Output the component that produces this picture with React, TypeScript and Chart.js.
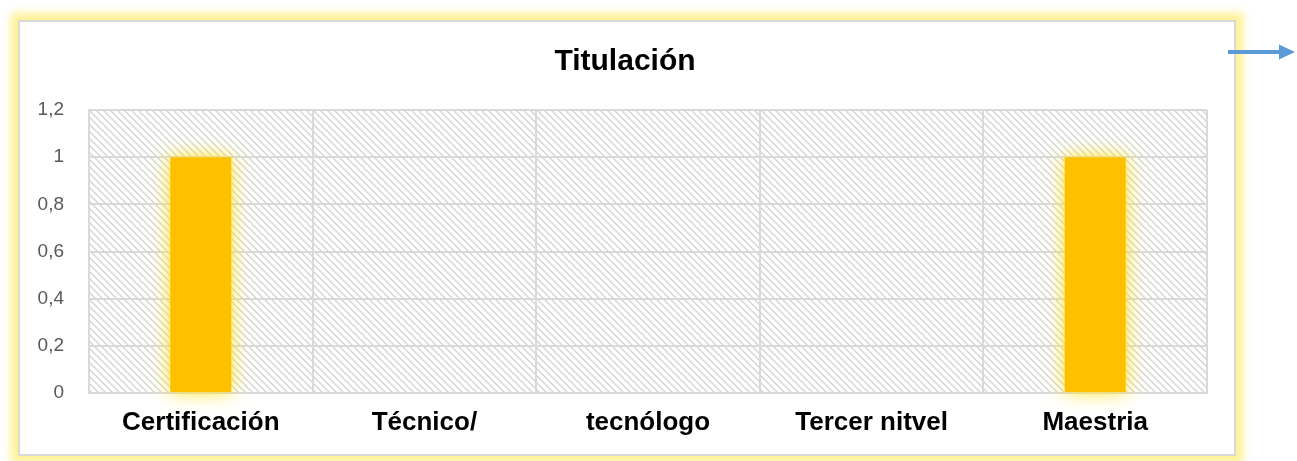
import React, { useEffect, useRef } from 'react';
import { Chart, registerables } from 'chart.js';

Chart.register(...registerables);

const chartTitle = 'Titulación';
const categories = ['Certificación', 'Técnico/', 'tecnólogo', 'Tercer nitvel', 'Maestria'];
const values = [1, 0, 0, 0, 1];
const yMin = 0;
const yMax = 1.2;
const yStep = 0.2;

const FONT = '"Liberation Sans", Arial, sans-serif';

function makeHatch(ctx: CanvasRenderingContext2D) {
  const c = document.createElement('canvas');
  c.width = 7;
  c.height = 7;
  const g = c.getContext('2d')!;
  g.fillStyle = '#ffffff';
  g.fillRect(0, 0, 7, 7);
  g.strokeStyle = '#d2d2d2';
  g.lineWidth = 1.3;
  g.beginPath();
  g.moveTo(-1, -1);
  g.lineTo(8, 8);
  g.moveTo(-8, -1);
  g.lineTo(1, 8);
  g.moveTo(6, -1);
  g.lineTo(15, 8);
  g.stroke();
  return ctx.createPattern(c, 'repeat');
}

const decorPlugin = {
  id: 'decor',
  beforeDraw(chart: any) {
    const { ctx, chartArea } = chart;
    const pat = makeHatch(ctx);
    ctx.save();
    if (pat) ctx.fillStyle = pat;
    ctx.fillRect(chartArea.left, chartArea.top, chartArea.right - chartArea.left, chartArea.bottom - chartArea.top);
    ctx.restore();
  },
  beforeDatasetsDraw(chart: any) {
    const ctx = chart.ctx;
    ctx.save();
    ctx.shadowColor = 'rgba(255, 228, 40, 1)';
    ctx.shadowBlur = 18;
  },
  afterDatasetsDraw(chart: any) {
    chart.ctx.restore();
  },
  afterDraw(chart: any) {
    const ctx = chart.ctx;
    ctx.save();
    // title
    ctx.fillStyle = '#000000';
    ctx.font = `bold 30px ${FONT}`;
    ctx.textAlign = 'center';
    ctx.textBaseline = 'alphabetic';
    ctx.fillText(chartTitle, 625, 70);
    // arrow
    ctx.strokeStyle = '#5B9BD5';
    ctx.fillStyle = '#5B9BD5';
    ctx.lineWidth = 4;
    ctx.beginPath();
    ctx.moveTo(1228, 52);
    ctx.lineTo(1281, 52);
    ctx.stroke();
    ctx.beginPath();
    ctx.moveTo(1279, 44.5);
    ctx.lineTo(1295, 52);
    ctx.lineTo(1279, 59.5);
    ctx.closePath();
    ctx.fill();
    ctx.restore();
  },
};

export default function App() {
  const ref = useRef<HTMLCanvasElement | null>(null);

  useEffect(() => {
    if (!ref.current) return;
    const chart = new Chart(ref.current, {
      type: 'bar',
      data: {
        labels: categories,
        datasets: [
          {
            data: values,
            backgroundColor: '#FFC000',
            borderWidth: 0,
            barPercentage: 0.273,
            categoryPercentage: 1,
            clip: false as any,
          },
        ],
      },
      plugins: [decorPlugin],
      options: {
        animation: false,
        responsive: false,
        devicePixelRatio: 1,
        layout: { padding: { left: 20, right: 90, top: 110, bottom: 0 } },
        plugins: {
          legend: { display: false },
          title: { display: false },
          tooltip: { enabled: false },
        },
        scales: {
          x: {
            grid: { display: true, offset: true, color: '#d9d9d9', lineWidth: 2, drawTicks: false },
            border: { display: true, color: '#d9d9d9', width: 2 },
            ticks: {
              color: '#000000',
              padding: 14,
              maxRotation: 0,
              autoSkip: false,
              font: { family: FONT, size: 26, weight: 'bold' },
            },
            afterFit(scale: any) {
              scale.height = 68;
            },
          },
          y: {
            min: yMin,
            max: yMax,
            grid: { color: '#d9d9d9', lineWidth: 2, drawTicks: false },
            border: { display: true, color: '#d9d9d9', width: 2 },
            ticks: {
              stepSize: yStep,
              color: '#595959',
              padding: 25,
              font: { family: FONT, size: 19 },
              callback: (v: any) => Number(Number(v).toFixed(1)).toString().replace('.', ','),
            },
            afterFit(scale: any) {
              scale.width = 69;
            },
          },
        },
      },
    });
    return () => chart.destroy();
  }, []);

  return (
    <div style={{ position: 'absolute', left: 0, top: 0, width: 1297, height: 461, overflow: 'hidden', background: '#ffffff' }}>
      <div
        style={{
          position: 'absolute',
          left: 18,
          top: 20,
          width: 1218,
          height: 436,
          boxSizing: 'border-box',
          border: '2px solid #d9d9d9',
          background: '#ffffff',
          boxShadow: '0 0 8px 7px rgba(255, 238, 120, 0.8)',
        }}
      />
      <canvas
        ref={ref}
        width={1297}
        height={461}
        style={{ position: 'absolute', left: 0, top: 0, width: 1297, height: 461 }}
      />
    </div>
  );
}
